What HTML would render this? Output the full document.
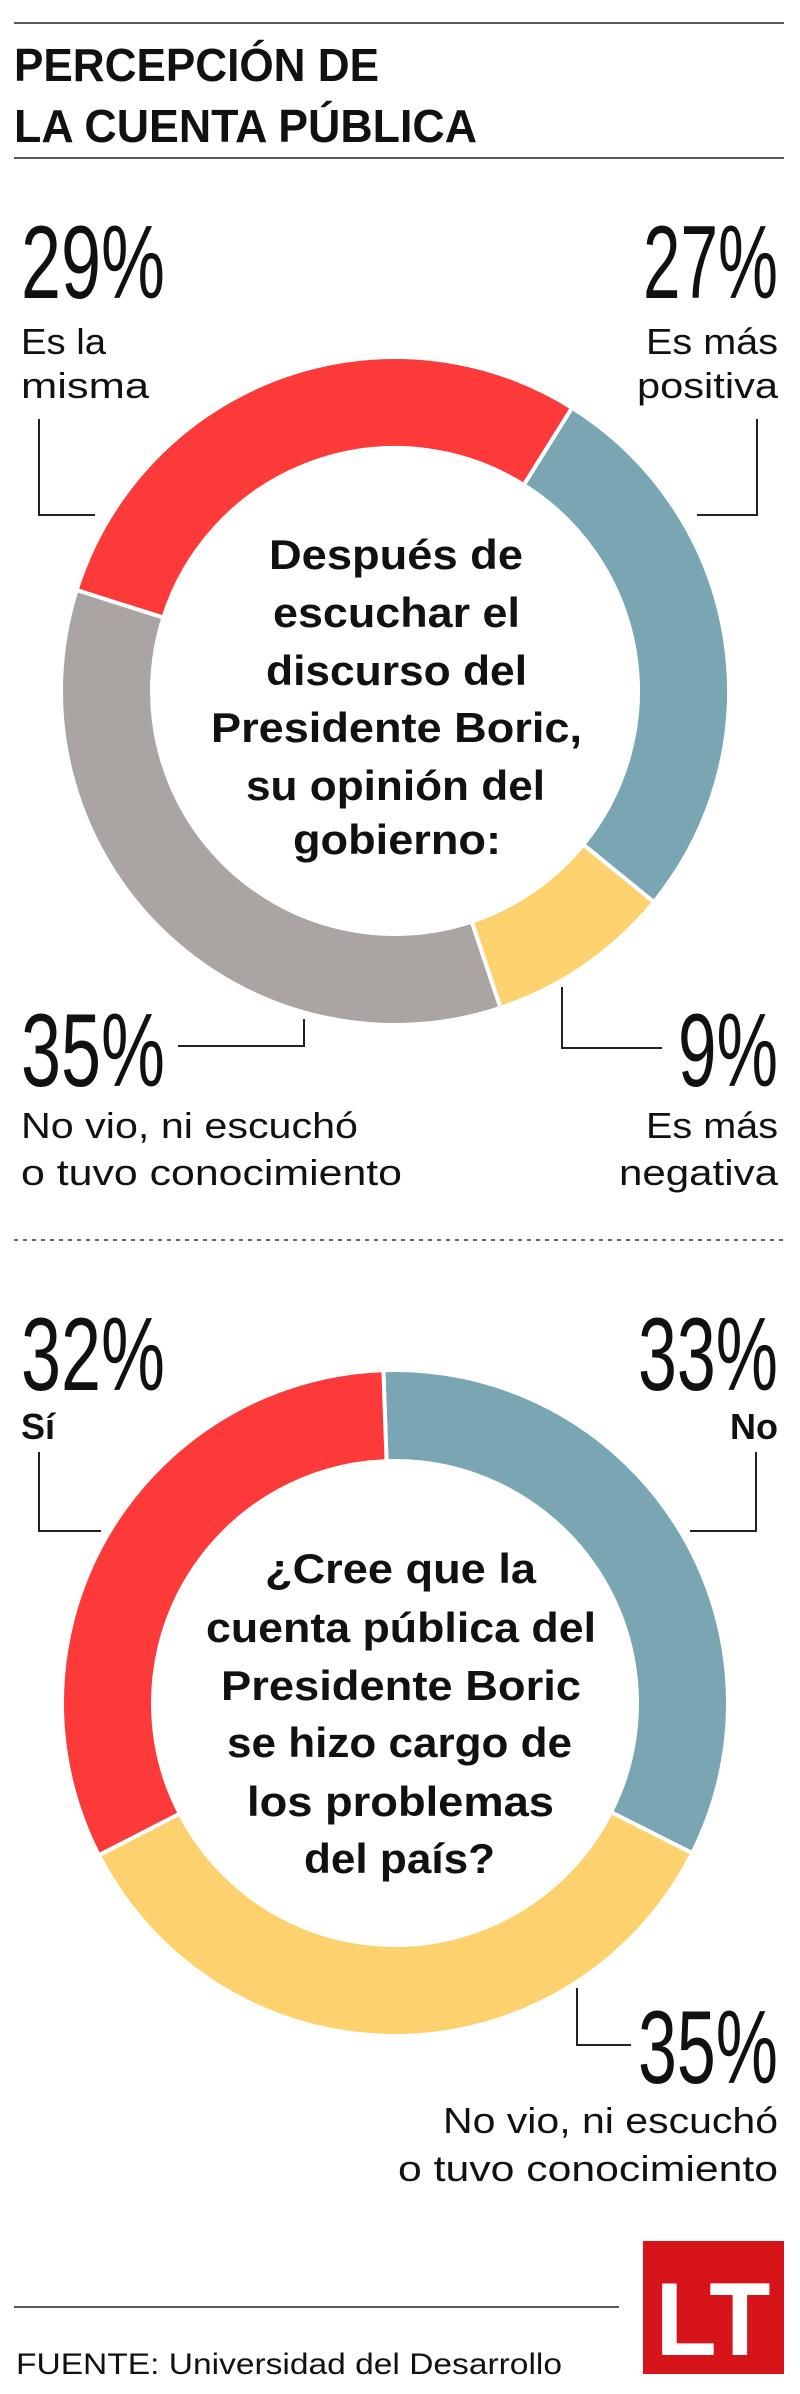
<!DOCTYPE html>
<html><head><meta charset="utf-8">
<style>
html,body{margin:0;padding:0;background:#fff;}
svg{display:block;}
text{font-family:"Liberation Sans",sans-serif;fill:#111;}
.n{font-family:"Liberation Sans Narrow","Liberation Sans",sans-serif;font-size:104px;}
.b{font-weight:bold;}
.l{font-size:36px;}
.c{font-size:42px;font-weight:bold;}
</style></head><body>
<svg id="s" width="800" height="2394" viewBox="0 0 800 2394">
<line x1="14" y1="23" x2="784" y2="23" stroke="#222" stroke-width="1.5"/>
<text x="14" y="81" font-size="46" class="b" textLength="365" lengthAdjust="spacingAndGlyphs">PERCEPCIÓN DE</text>
<text x="14" y="142" font-size="46" class="b" textLength="463" lengthAdjust="spacingAndGlyphs">LA CUENTA PÚBLICA</text>
<line x1="14" y1="158" x2="784" y2="158" stroke="#222" stroke-width="1.5"/>
<g id="d1"></g>
<g id="d2"></g>

<!-- chart 1 labels -->
<text class="n" x="21" y="298" textLength="144" lengthAdjust="spacingAndGlyphs">29%</text>
<text class="l" x="21" y="354" textLength="85" lengthAdjust="spacingAndGlyphs">Es la</text>
<text class="l" x="21" y="398" textLength="128" lengthAdjust="spacingAndGlyphs">misma</text>
<text class="n" x="643" y="298" textLength="135" lengthAdjust="spacingAndGlyphs">27%</text>
<text class="l" x="646" y="354" textLength="132" lengthAdjust="spacingAndGlyphs">Es más</text>
<text class="l" x="637" y="398" textLength="141" lengthAdjust="spacingAndGlyphs">positiva</text>
<text class="n" x="21" y="1086" textLength="144" lengthAdjust="spacingAndGlyphs">35%</text>
<text class="l" x="21" y="1138" textLength="337" lengthAdjust="spacingAndGlyphs">No vio, ni escuchó</text>
<text class="l" x="21" y="1185" textLength="381" lengthAdjust="spacingAndGlyphs">o tuvo conocimiento</text>
<text class="n" x="678" y="1086" textLength="100" lengthAdjust="spacingAndGlyphs">9%</text>
<text class="l" x="646" y="1138" textLength="132" lengthAdjust="spacingAndGlyphs">Es más</text>
<text class="l" x="619" y="1185" textLength="159" lengthAdjust="spacingAndGlyphs">negativa</text>
<g fill="none" stroke="#222" stroke-width="2">
<polyline points="39,419 39,515 95,515"/>
<polyline points="757,419 757,515 697,515"/>
<polyline points="178,1046 304,1046 304,1019"/>
<polyline points="562,987 562,1048 662,1048"/>
</g>
<g>
<text class="c" x="269" y="569" textLength="254" lengthAdjust="spacingAndGlyphs">Después de</text>
<text class="c" x="273" y="627" textLength="247" lengthAdjust="spacingAndGlyphs">escuchar el</text>
<text class="c" x="266" y="685" textLength="261" lengthAdjust="spacingAndGlyphs">discurso del</text>
<text class="c" x="211" y="742" textLength="371" lengthAdjust="spacingAndGlyphs">Presidente Boric,</text>
<text class="c" x="246" y="800" textLength="299" lengthAdjust="spacingAndGlyphs">su opinión del</text>
<text class="c" x="293" y="854" textLength="208" lengthAdjust="spacingAndGlyphs">gobierno:</text>
</g>

<line x1="14" y1="1240" x2="784" y2="1240" stroke="#333" stroke-width="1.5" stroke-dasharray="4,5"/>

<!-- chart 2 labels -->
<text class="n" x="21" y="1390" textLength="144" lengthAdjust="spacingAndGlyphs">32%</text>
<text class="l b" x="21" y="1439">Sí</text>
<text class="n" x="638" y="1390" textLength="140" lengthAdjust="spacingAndGlyphs">33%</text>
<text class="l b" x="778" y="1439" text-anchor="end">No</text>
<text class="n" x="638" y="2083" textLength="140" lengthAdjust="spacingAndGlyphs">35%</text>
<text class="l" x="443" y="2133" textLength="335" lengthAdjust="spacingAndGlyphs">No vio, ni escuchó</text>
<text class="l" x="398" y="2181" textLength="380" lengthAdjust="spacingAndGlyphs">o tuvo conocimiento</text>
<g fill="none" stroke="#222" stroke-width="2">
<polyline points="39,1452 39,1531 101,1531"/>
<polyline points="756,1452 756,1531 690,1531"/>
<polyline points="577,1988 577,2045 631,2045"/>
</g>
<g>
<text class="c" x="265" y="1583" textLength="271" lengthAdjust="spacingAndGlyphs">¿Cree que la</text>
<text class="c" x="206" y="1642" textLength="390" lengthAdjust="spacingAndGlyphs">cuenta pública del</text>
<text class="c" x="221" y="1700" textLength="360" lengthAdjust="spacingAndGlyphs">Presidente Boric</text>
<text class="c" x="227" y="1757" textLength="345" lengthAdjust="spacingAndGlyphs">se hizo cargo de</text>
<text class="c" x="247" y="1816" textLength="307" lengthAdjust="spacingAndGlyphs">los problemas</text>
<text class="c" x="304" y="1873" textLength="191" lengthAdjust="spacingAndGlyphs">del país?</text>
</g>

<line x1="14" y1="2307" x2="619" y2="2307" stroke="#222" stroke-width="1.5"/>
<text x="16" y="2374" font-size="30" textLength="546" lengthAdjust="spacingAndGlyphs">FUENTE: Universidad del Desarrollo</text>
<g>
<rect x="643" y="2241" width="141" height="133" fill="#d7141a"/>
<text x="713" y="2355" font-size="104" class="b" text-anchor="middle" style="fill:#fff" textLength="115" lengthAdjust="spacingAndGlyphs">LT</text>
</g>
</svg>
<script>
// Chart 1
const cats1 = ["Es más positiva","Es más negativa","No vio, ni escuchó","Es la misma"];
const vals1 = [27, 9, 35, 29];
const cols1 = ["#7aa6b3","#fdd26e","#aaa5a3","#fc3a3a"];
// Chart 2
const cats2 = ["No","No vio, ni escuchó","Sí"];
const vals2 = [33, 35, 32];
const cols2 = ["#7aa6b3","#fdd26e","#fc3a3a"];

const NS="http://www.w3.org/2000/svg";
function pt(cx,cy,r,a){const t=(a-90)*Math.PI/180;return [cx+r*Math.cos(t),cy+r*Math.sin(t)];}
function donut(g,cats,vals,cols,cx,cy,R,r,start){
  const tot=vals.reduce((a,b)=>a+b,0);
  let a=start;
  vals.forEach((v,i)=>{
    const s=v/tot*360, b=a+s, lg=s>180?1:0;
    const p1=pt(cx,cy,R,a),p2=pt(cx,cy,R,b),p3=pt(cx,cy,r,b),p4=pt(cx,cy,r,a);
    const p=document.createElementNS(NS,"path");
    p.setAttribute("d",`M${p1}A${R},${R} 0 ${lg} 1 ${p2}L${p3}A${r},${r} 0 ${lg} 0 ${p4}Z`);
    p.setAttribute("fill",cols[i]);
    p.setAttribute("stroke","#fff");
    p.setAttribute("stroke-width","4");
    
    
    g.appendChild(p);
    a=b;
  });
}
donut(document.getElementById("d1"),cats1,vals1,cols1,395,691,334,243,32);
donut(document.getElementById("d2"),cats2,vals2,cols2,395,1703,333,242,-2);
</script>
</body></html>
